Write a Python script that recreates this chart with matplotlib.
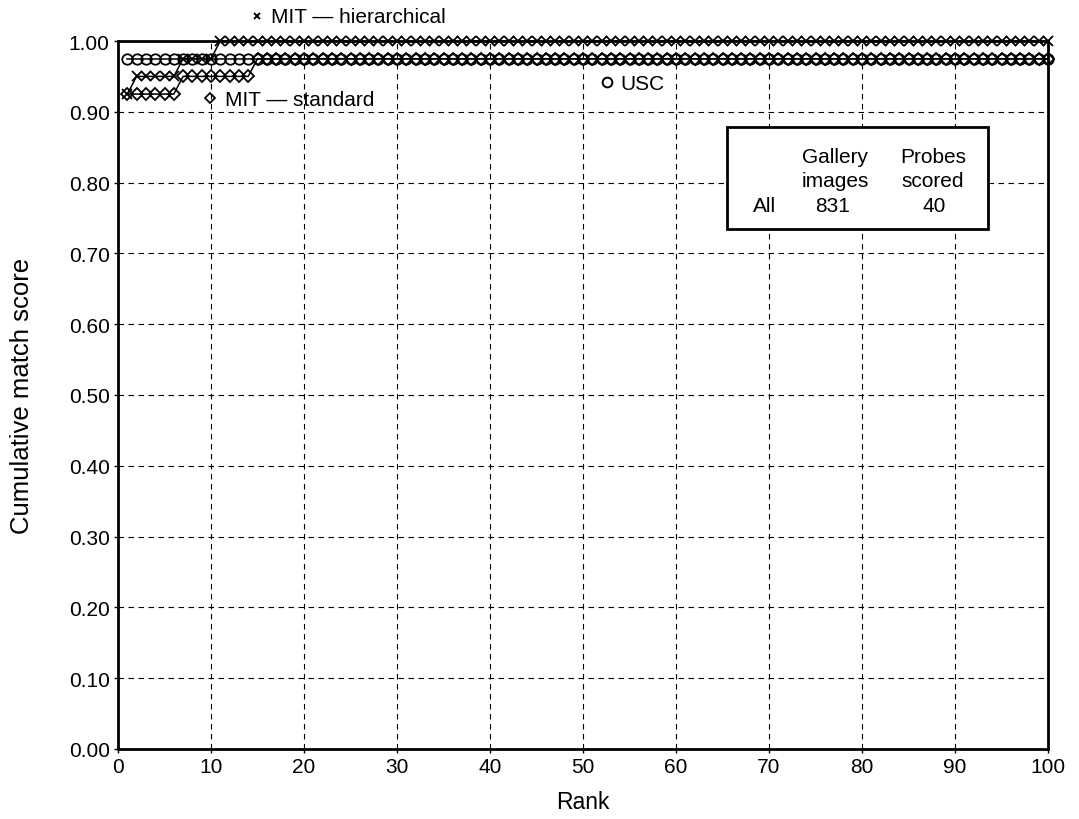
import matplotlib
matplotlib.use("Agg")
import matplotlib.pyplot as plt
from matplotlib.ticker import FormatStrFormatter, MultipleLocator
from matplotlib.patches import Rectangle

plt.rcParams['font.family'] = ['Liberation Sans', 'DejaVu Sans']

ranks = list(range(1, 101))

usc = [0.975, 0.975, 0.975, 0.975, 0.975, 0.975, 0.975, 0.975, 0.975, 0.975,
       0.975, 0.975, 0.975, 0.975, 0.975, 0.975, 0.975, 0.975, 0.975, 0.975,
       0.975, 0.975, 0.975, 0.975, 0.975, 0.975, 0.975, 0.975, 0.975, 0.975,
       0.975, 0.975, 0.975, 0.975, 0.975, 0.975, 0.975, 0.975, 0.975, 0.975,
       0.975, 0.975, 0.975, 0.975, 0.975, 0.975, 0.975, 0.975, 0.975, 0.975,
       0.975, 0.975, 0.975, 0.975, 0.975, 0.975, 0.975, 0.975, 0.975, 0.975,
       0.975, 0.975, 0.975, 0.975, 0.975, 0.975, 0.975, 0.975, 0.975, 0.975,
       0.975, 0.975, 0.975, 0.975, 0.975, 0.975, 0.975, 0.975, 0.975, 0.975,
       0.975, 0.975, 0.975, 0.975, 0.975, 0.975, 0.975, 0.975, 0.975, 0.975,
       0.975, 0.975, 0.975, 0.975, 0.975, 0.975, 0.975, 0.975, 0.975, 0.975]

mit_standard = [0.925, 0.925, 0.925, 0.925, 0.925, 0.925, 0.950, 0.950, 0.950, 0.950,
                0.950, 0.950, 0.950, 0.950, 0.975, 0.975, 0.975, 0.975, 0.975, 0.975,
                0.975, 0.975, 0.975, 0.975, 0.975, 0.975, 0.975, 0.975, 0.975, 0.975,
                0.975, 0.975, 0.975, 0.975, 0.975, 0.975, 0.975, 0.975, 0.975, 0.975,
                0.975, 0.975, 0.975, 0.975, 0.975, 0.975, 0.975, 0.975, 0.975, 0.975,
                0.975, 0.975, 0.975, 0.975, 0.975, 0.975, 0.975, 0.975, 0.975, 0.975,
                0.975, 0.975, 0.975, 0.975, 0.975, 0.975, 0.975, 0.975, 0.975, 0.975,
                0.975, 0.975, 0.975, 0.975, 0.975, 0.975, 0.975, 0.975, 0.975, 0.975,
                0.975, 0.975, 0.975, 0.975, 0.975, 0.975, 0.975, 0.975, 0.975, 0.975,
                0.975, 0.975, 0.975, 0.975, 0.975, 0.975, 0.975, 0.975, 0.975, 0.975]

mit_hierarchical = [0.925, 0.950, 0.950, 0.950, 0.950, 0.950, 0.975, 0.975, 0.975, 0.975,
                    1.000, 1.000, 1.000, 1.000, 1.000, 1.000, 1.000, 1.000, 1.000, 1.000,
                    1.000, 1.000, 1.000, 1.000, 1.000, 1.000, 1.000, 1.000, 1.000, 1.000,
                    1.000, 1.000, 1.000, 1.000, 1.000, 1.000, 1.000, 1.000, 1.000, 1.000,
                    1.000, 1.000, 1.000, 1.000, 1.000, 1.000, 1.000, 1.000, 1.000, 1.000,
                    1.000, 1.000, 1.000, 1.000, 1.000, 1.000, 1.000, 1.000, 1.000, 1.000,
                    1.000, 1.000, 1.000, 1.000, 1.000, 1.000, 1.000, 1.000, 1.000, 1.000,
                    1.000, 1.000, 1.000, 1.000, 1.000, 1.000, 1.000, 1.000, 1.000, 1.000,
                    1.000, 1.000, 1.000, 1.000, 1.000, 1.000, 1.000, 1.000, 1.000, 1.000,
                    1.000, 1.000, 1.000, 1.000, 1.000, 1.000, 1.000, 1.000, 1.000, 1.000]

table_header_top = ["Gallery", "Probes"]
table_header_bottom = ["images", "scored"]
table_row = ["All", "831", "40"]

W, H = 1079, 820
L, R, T, B = 118, 1048, 42, 750

fig = plt.figure(figsize=(W / 100, H / 100), dpi=100)
ax = fig.add_axes([L / W, 1 - B / H, (R - L) / W, (B - T) / H])


def fx(px):
    return (px - L) / (R - L)


def fy(py):
    return (B - py) / (B - T)


ax.plot(ranks, usc, color='black', lw=1.1, marker='o', markersize=7.5,
        markerfacecolor='none', markeredgewidth=1.3, clip_on=False, zorder=3)
ax.plot(ranks, mit_standard, color='black', lw=1.1, marker='D', markersize=6.5,
        markerfacecolor='none', markeredgewidth=1.3, clip_on=False, zorder=3)
ax.plot(ranks, mit_hierarchical, color='black', lw=1.1, marker='x', markersize=7,
        markeredgewidth=1.3, clip_on=False, zorder=3)

ax.set_xlim(0, 100)
ax.set_ylim(0, 1)
ax.xaxis.set_major_locator(MultipleLocator(10))
ax.yaxis.set_major_locator(MultipleLocator(0.1))
ax.yaxis.set_major_formatter(FormatStrFormatter('%.2f'))
ax.grid(True, color='black', linestyle=(0, (5, 4)), linewidth=0.8)
ax.tick_params(direction='out', length=3, labelsize=15, width=1, pad=3)
for s in ax.spines.values():
    s.set_linewidth(2)

ax.set_xlabel("Rank", fontsize=16.5, va='center')
ax.xaxis.set_label_coords(0.5, fy(803))
ax.set_ylabel("Cumulative match score", fontsize=18.5, va='center')
ax.yaxis.set_label_coords(fx(22), 0.5)

# in-plot labels with marker keys
ax.plot([fx(257)], [fy(17)], transform=ax.transAxes, marker='x', color='black',
        markersize=5, markeredgewidth=1.4, clip_on=False)
ax.text(fx(271), fy(23), "MIT — hierarchical", transform=ax.transAxes,
        fontsize=15, va='baseline', ha='left')
ax.plot([fx(210)], [fy(99)], transform=ax.transAxes, marker='D', color='black',
        markerfacecolor='none', markersize=5.5, markeredgewidth=1.3)
ax.text(fx(225), fy(106), "MIT — standard", transform=ax.transAxes,
        fontsize=15, va='baseline', ha='left')
ax.plot([fx(607)], [fy(83)], transform=ax.transAxes, marker='o', color='black',
        markerfacecolor='none', markersize=7, markeredgewidth=1.4)
ax.text(fx(620), fy(90), "USC", transform=ax.transAxes,
        fontsize=15, va='baseline', ha='left')

# summary table box
ax.add_patch(Rectangle((fx(727), fy(230)), fx(988) - fx(727), fy(128) - fy(230),
                       transform=ax.transAxes, facecolor='white',
                       edgecolor='black', lw=2, zorder=5))
col_x = [835, 933]
for cx, top, bot in zip(col_x, table_header_top, table_header_bottom):
    ax.text(fx(cx), fy(163), top, transform=ax.transAxes, fontsize=15,
            ha='center', va='baseline', zorder=6)
    ax.text(fx(cx), fy(187), bot, transform=ax.transAxes, fontsize=15,
            ha='center', va='baseline', zorder=6)
row_x = [765, 833, 934]
for rx, lab in zip(row_x, table_row):
    ax.text(fx(rx), fy(212), lab, transform=ax.transAxes, fontsize=15,
            ha='center', va='baseline', zorder=6)

fig.savefig("out.png", dpi=100)
